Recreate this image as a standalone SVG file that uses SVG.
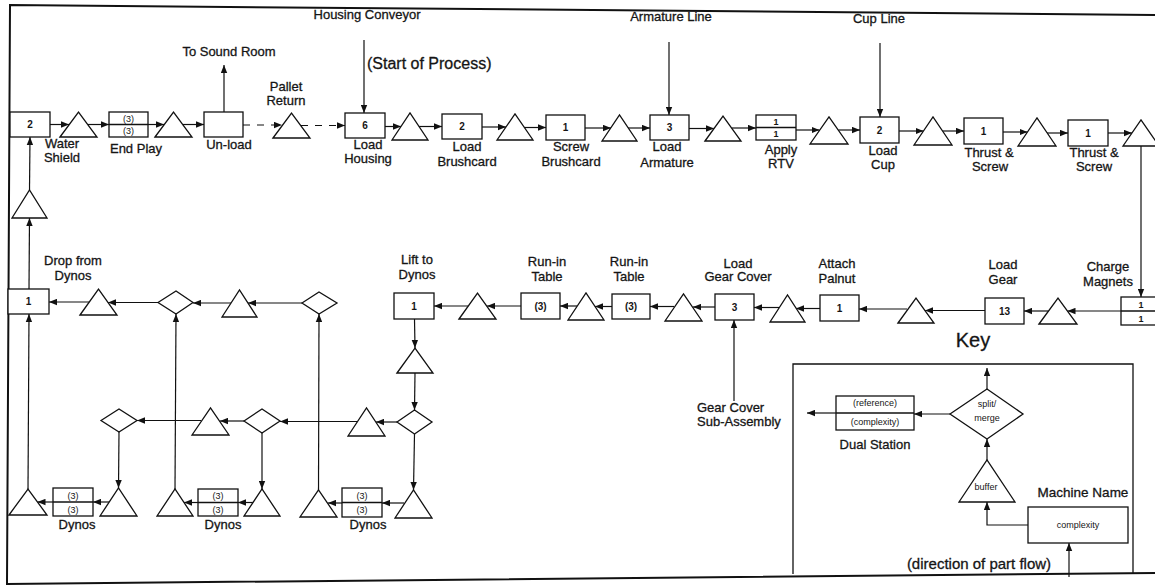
<svg xmlns="http://www.w3.org/2000/svg" width="1155" height="588" viewBox="0 0 1155 588">
<style>
.s{fill:#fff;stroke:#111;stroke-width:1.3}
.c{fill:none;stroke:#111;stroke-width:1.2}
.d{stroke-dasharray:7 7}
.t{font-family:"Liberation Sans",Arial,sans-serif;font-size:13px;text-anchor:middle;fill:#151515;stroke:#151515;stroke-width:0.3}
.n{font-family:"Liberation Sans",Arial,sans-serif;font-size:10px;font-weight:bold;text-anchor:middle;fill:#151515}
.k{font-family:"Liberation Sans",Arial,sans-serif;font-size:9px;text-anchor:middle;fill:#151515}
.big{font-size:16px}
</style>
<defs>
<marker id="ah" viewBox="0 0 10 8" refX="10" refY="4" markerWidth="8" markerHeight="7" orient="auto" markerUnits="userSpaceOnUse"><path d="M0,0 L10,4 L0,8 z" fill="#111"/></marker>
</defs>
<rect width="1155" height="588" fill="#fff"/>
<g id="frame" fill="none" stroke="#111" stroke-width="2">
<path d="M1155,15 L10,5 L7,584 L1155,573"/>
<path d="M793,574 L793,364 L1133,364 L1133,574" stroke-width="1.3"/>
</g>
<g id="connectors" class="c" marker-end="url(#ah)">
<line x1="50" y1="124.5" x2="69" y2="124.5"/>
<line x1="88" y1="124.5" x2="109" y2="124.5"/>
<line x1="148" y1="124.5" x2="164" y2="124.5"/>
<line x1="183" y1="124.5" x2="204" y2="124.5"/>
<line x1="224" y1="112" x2="224" y2="65"/>
<line class="d" x1="243" y1="125" x2="282" y2="125"/>
<line class="d" x1="301" y1="125.5" x2="345" y2="125.5"/>
<line x1="364" y1="40" x2="364" y2="113"/>
<line x1="385" y1="126.5" x2="401" y2="126.5"/>
<line x1="419" y1="126.5" x2="442" y2="126.5"/>
<line x1="482" y1="127" x2="506" y2="127"/>
<line x1="524" y1="127.5" x2="546" y2="127.5"/>
<line x1="585" y1="128" x2="611" y2="128"/>
<line x1="628" y1="128" x2="650" y2="128"/>
<line x1="669" y1="42" x2="669" y2="115"/>
<line x1="689" y1="128.5" x2="714" y2="128.5"/>
<line x1="732" y1="128" x2="756" y2="128"/>
<line x1="796" y1="130" x2="819.5" y2="130"/>
<line x1="838.5" y1="130" x2="860" y2="130"/>
<line x1="880" y1="43" x2="880" y2="117"/>
<line x1="899" y1="131" x2="923.5" y2="131"/>
<line x1="942.5" y1="131" x2="964" y2="131"/>
<line x1="1003" y1="132" x2="1027.5" y2="132"/>
<line x1="1046.5" y1="133" x2="1068" y2="133"/>
<line x1="1108" y1="133" x2="1132" y2="133"/>
<line x1="1141" y1="146" x2="1141" y2="297"/>
<line x1="1121" y1="311" x2="1067.5" y2="311"/>
<line x1="1048.5" y1="311" x2="1024" y2="311"/>
<line x1="985" y1="310.5" x2="925" y2="310.5"/>
<line x1="907" y1="309" x2="859" y2="309"/>
<line x1="820" y1="308.5" x2="796" y2="308.5"/>
<line x1="779" y1="307.5" x2="754" y2="307.5"/>
<line x1="734" y1="401" x2="734" y2="320"/>
<line x1="715" y1="307" x2="693" y2="307"/>
<line x1="674" y1="306.5" x2="650" y2="306.5"/>
<line x1="612" y1="306.5" x2="595" y2="306.5"/>
<line x1="577" y1="306" x2="560" y2="306"/>
<line x1="521" y1="306" x2="487" y2="306"/>
<line x1="468" y1="306" x2="434" y2="306"/>
<line x1="414.5" y1="319" x2="415" y2="348"/>
<line x1="415" y1="373" x2="414.5" y2="410"/>
<line x1="414.5" y1="434" x2="413.5" y2="490"/>
<line x1="397" y1="422" x2="376" y2="422"/>
<line x1="357" y1="421.5" x2="280" y2="421.5"/>
<line x1="244" y1="421" x2="220" y2="421"/>
<line x1="201" y1="420.5" x2="137" y2="420.5"/>
<line x1="262" y1="433" x2="262" y2="489"/>
<line x1="119" y1="432" x2="118.5" y2="488"/>
<line x1="404" y1="503" x2="382" y2="503"/>
<line x1="342" y1="503" x2="328" y2="503"/>
<line x1="318.5" y1="490" x2="319" y2="314"/>
<line x1="253" y1="502.5" x2="238" y2="502.5"/>
<line x1="198" y1="502.5" x2="184" y2="502.5"/>
<line x1="175" y1="489" x2="176" y2="314"/>
<line x1="109" y1="502" x2="93" y2="502"/>
<line x1="53" y1="502" x2="37.5" y2="502"/>
<line x1="28" y1="489" x2="29" y2="314"/>
<line x1="302" y1="303" x2="248" y2="303"/>
<line x1="231" y1="303" x2="193" y2="303"/>
<line x1="158" y1="302.5" x2="108" y2="302.5"/>
<line x1="89" y1="302" x2="49" y2="302"/>
<line x1="29" y1="289" x2="29.5" y2="218"/>
<line x1="29.5" y1="190" x2="30" y2="137"/>
<line x1="836" y1="413" x2="807" y2="413"/>
<line x1="950" y1="414" x2="914" y2="414"/>
<line x1="987" y1="389" x2="987" y2="368"/>
<line x1="987" y1="460" x2="987" y2="439"/>
<polyline points="1028,525 987,525 987,502"/>
<line x1="1069" y1="577" x2="1069" y2="543"/>
</g>
<g id="n-water-shield"><rect class="s" x="10" y="112" width="40" height="25"/><text class="n" x="30" y="128">2</text><text class="t" x="62" y="147.5">Water</text><text class="t" x="62" y="161.5">Shield</text></g>
<g id="n-buf1"><polygon class="s" points="60,137 78.5,112 97,137"/></g>
<g id="n-end-play"><rect class="s" x="109" y="112" width="39" height="25"/><line class="s" x1="109" y1="124.5" x2="148" y2="124.5"/><text class="k" x="128.5" y="122">(3)</text><text class="k" x="128.5" y="134">(3)</text><text class="t" x="136" y="152.5">End Play</text></g>
<g id="n-buf2"><polygon class="s" points="155,137 173.5,112 192,137"/></g>
<g id="n-unload"><rect class="s" x="204" y="112" width="39" height="25"/><text class="t" x="229" y="148.5">Un-load</text><text class="t" x="229" y="56">To Sound Room</text></g>
<g id="n-pallet-return"><polygon class="s" points="273,138 291.5,113 310,138"/><text class="t" x="286" y="90.5">Pallet</text><text class="t" x="286" y="104.5">Return</text></g>
<g id="n-load-housing"><rect class="s" x="345" y="113" width="40" height="25"/><text class="n" x="365" y="129">6</text><text class="t" x="368" y="148.5">Load</text><text class="t" x="368" y="162.5">Housing</text><text class="t" x="367" y="19">Housing Conveyor</text><text class="t big" x="367" y="69" style="text-anchor:start">(Start of Process)</text></g>
<g id="n-buf3"><polygon class="s" points="392,140 410,113 428,140"/></g>
<g id="n-load-brushcard"><rect class="s" x="442" y="114" width="40" height="25"/><text class="n" x="462" y="130">2</text><text class="t" x="467" y="150.5">Load</text><text class="t" x="467" y="165.5">Brushcard</text></g>
<g id="n-buf4"><polygon class="s" points="497,140 515,114 533,140"/></g>
<g id="n-screw-brushcard"><rect class="s" x="546" y="115" width="39" height="25"/><text class="n" x="565.5" y="131">1</text><text class="t" x="571" y="150.5">Screw</text><text class="t" x="571" y="165.5">Brushcard</text></g>
<g id="n-buf5"><polygon class="s" points="602,141 619.5,115 637,141"/></g>
<g id="n-load-armature"><rect class="s" x="650" y="115" width="39" height="25"/><text class="n" x="669.5" y="131">3</text><text class="t" x="667" y="151">Load</text><text class="t" x="667" y="166.5">Armature</text><text class="t" x="671" y="21">Armature Line</text></g>
<g id="n-buf6"><polygon class="s" points="705,141 723,116 741,141"/></g>
<g id="n-apply-rtv"><rect class="s" x="756" y="115" width="40" height="25"/><line class="s" x1="756" y1="127.5" x2="796" y2="127.5"/><text class="k" x="776" y="125" font-weight="bold">1</text><text class="k" x="776" y="137" font-weight="bold">1</text><text class="t" x="781" y="153.5">Apply</text><text class="t" x="781" y="167.5">RTV</text></g>
<g id="n-buf7"><polygon class="s" points="810,144 829,117 848,144"/></g>
<g id="n-load-cup"><rect class="s" x="860" y="117" width="39" height="26"/><text class="n" x="879.5" y="133.5">2</text><text class="t" x="883" y="154.5">Load</text><text class="t" x="883" y="168.5">Cup</text><text class="t" x="879" y="23">Cup Line</text></g>
<g id="n-buf8"><polygon class="s" points="914,145 933,117 952,145"/></g>
<g id="n-thrust-screw-1"><rect class="s" x="964" y="118" width="39" height="26"/><text class="n" x="983.5" y="134.5">1</text><text class="t" x="989" y="156.5">Thrust &amp;</text><text class="t" x="990" y="170.5">Screw</text></g>
<g id="n-buf9"><polygon class="s" points="1018,146 1037,118 1056,146"/></g>
<g id="n-thrust-screw-2"><rect class="s" x="1068" y="120" width="40" height="26"/><text class="n" x="1088" y="136.5">1</text><text class="t" x="1094" y="156.5">Thrust &amp;</text><text class="t" x="1094" y="171">Screw</text></g>
<g id="n-buf10"><polygon class="s" points="1123,146 1141,120 1159,146"/></g>
<g id="n-charge-magnets"><rect class="s" x="1121" y="297" width="45" height="28"/><line class="s" x1="1121" y1="311" x2="1166" y2="311"/><text class="k" x="1141" y="308" font-weight="bold">1</text><text class="k" x="1141" y="322" font-weight="bold">1</text><text class="t" x="1108" y="270.5">Charge</text><text class="t" x="1108" y="285.5">Magnets</text></g>
<g id="n-buf11"><polygon class="s" points="1039,324 1058,298 1077,324"/></g>
<g id="n-load-gear"><rect class="s" x="985" y="298" width="39" height="26"/><text class="n" x="1004.5" y="314.5">13</text><text class="t" x="1003" y="268.5">Load</text><text class="t" x="1003" y="283.5">Gear</text></g>
<g id="n-buf12"><polygon class="s" points="898,323 916,298 934,323"/></g>
<g id="n-attach-palnut"><rect class="s" x="820" y="295" width="39" height="26"/><text class="n" x="839.5" y="311.5">1</text><text class="t" x="837" y="267.5">Attach</text><text class="t" x="837" y="282.5">Palnut</text></g>
<g id="n-buf13"><polygon class="s" points="770,322 787.5,295 805,322"/></g>
<g id="n-load-gear-cover"><rect class="s" x="715" y="294" width="39" height="26"/><text class="n" x="734.5" y="310.5">3</text><text class="t" x="738" y="267.5">Load</text><text class="t" x="738" y="281">Gear Cover</text><text class="t" x="697" y="411.5" style="text-anchor:start">Gear Cover</text><text class="t" x="697" y="425.5" style="text-anchor:start">Sub-Assembly</text></g>
<g id="n-buf14"><polygon class="s" points="665,321 683.5,294 702,321"/></g>
<g id="n-run-in-1"><rect class="s" x="612" y="294" width="38" height="25"/><text class="n" x="631" y="310">(3)</text><text class="t" x="629" y="265.5">Run-in</text><text class="t" x="629" y="280.5">Table</text></g>
<g id="n-buf15"><polygon class="s" points="568,320 586,293 604,320"/></g>
<g id="n-run-in-2"><rect class="s" x="521" y="293" width="39" height="26"/><text class="n" x="540.5" y="309.5">(3)</text><text class="t" x="547" y="265.5">Run-in</text><text class="t" x="547" y="280.5">Table</text></g>
<g id="n-buf16"><polygon class="s" points="459,319 477.5,293 496,319"/></g>
<g id="n-lift-to-dynos"><rect class="s" x="394" y="293" width="40" height="26"/><text class="n" x="414" y="309.5">1</text><text class="t" x="417" y="263.5">Lift to</text><text class="t" x="417" y="278.5">Dynos</text></g>
<g id="n-buf17"><polygon class="s" points="397,373 415,348 433,373"/></g>
<g id="n-split1"><polygon class="s" points="397,422 414.5,410 432,422 414.5,434"/></g>
<g id="n-buf18"><polygon class="s" points="348,436 366.5,408 385,436"/></g>
<g id="n-split2"><polygon class="s" points="244,421 262,409 280,421 262,433"/></g>
<g id="n-buf19"><polygon class="s" points="192,435 210.5,408 229,435"/></g>
<g id="n-split3"><polygon class="s" points="101,420.5 119,409 137,420.5 119,432"/></g>
<g id="n-buf20"><polygon class="s" points="395,518 413.5,490 432,518"/></g>
<g id="n-dynos-3"><rect class="s" x="342" y="488" width="40" height="29"/><line class="s" x1="342" y1="502.5" x2="382" y2="502.5"/><text class="k" x="362" y="499">(3)</text><text class="k" x="362" y="513">(3)</text><text class="t" x="368" y="528.5">Dynos</text></g>
<g id="n-buf21"><polygon class="s" points="300,517 318.5,490 337,517"/></g>
<g id="n-buf22"><polygon class="s" points="244,516 262,489 280,516"/></g>
<g id="n-dynos-2"><rect class="s" x="198" y="489" width="40" height="27"/><line class="s" x1="198" y1="502.5" x2="238" y2="502.5"/><text class="k" x="218" y="499">(3)</text><text class="k" x="218" y="513">(3)</text><text class="t" x="223" y="528.5">Dynos</text></g>
<g id="n-buf23"><polygon class="s" points="157,516 175,489 193,516"/></g>
<g id="n-buf24"><polygon class="s" points="100,516 118.5,488 137,516"/></g>
<g id="n-dynos-1"><rect class="s" x="53" y="488" width="40" height="28"/><line class="s" x1="53" y1="502" x2="93" y2="502"/><text class="k" x="73" y="498.5">(3)</text><text class="k" x="73" y="512.5">(3)</text><text class="t" x="77" y="528.5">Dynos</text></g>
<g id="n-buf25"><polygon class="s" points="9,515 28,489 47,515"/></g>
<g id="n-merge1"><polygon class="s" points="302,303 319,292 337,303 319,314"/></g>
<g id="n-buf26"><polygon class="s" points="222,317 239.5,290 257,317"/></g>
<g id="n-merge2"><polygon class="s" points="158,302.5 176,291 193,302.5 176,314"/></g>
<g id="n-buf27"><polygon class="s" points="80,315 98.5,289 117,315"/></g>
<g id="n-drop-from-dynos"><rect class="s" x="8" y="289" width="41" height="25"/><text class="n" x="28.5" y="305">1</text><text class="t" x="73" y="264.5">Drop from</text><text class="t" x="73" y="279.5">Dynos</text></g>
<g id="n-buf28"><polygon class="s" points="12,218 29.5,190 47,218"/></g>
<g id="key">
<text class="t" x="973" y="347" style="font-size:20px">Key</text>
<g id="k-dual"><rect class="s" x="836" y="396" width="78" height="34"/><line class="s" x1="836" y1="413" x2="914" y2="413"/><text class="k" x="875" y="406">(reference)</text><text class="k" x="875" y="425">(complexity)</text><text class="t" x="875" y="448.5">Dual Station</text></g>
<g id="k-split"><polygon class="s" points="950,414 987,389 1023,414 987,439"/><text class="k" x="987" y="407">split/</text><text class="k" x="987" y="421">merge</text></g>
<g id="k-buffer"><polygon class="s" points="959,502 987,460 1015,502"/><text class="k" x="986" y="490">buffer</text></g>
<g id="k-machine"><rect class="s" x="1028" y="507" width="100" height="36"/><text class="k" x="1078" y="528">complexity</text><text class="t" x="1083" y="497" style="font-size:13.5px">Machine Name</text></g>
<text class="t" x="979" y="569" style="font-size:15px">(direction of part flow)</text>
</g>
</svg>
